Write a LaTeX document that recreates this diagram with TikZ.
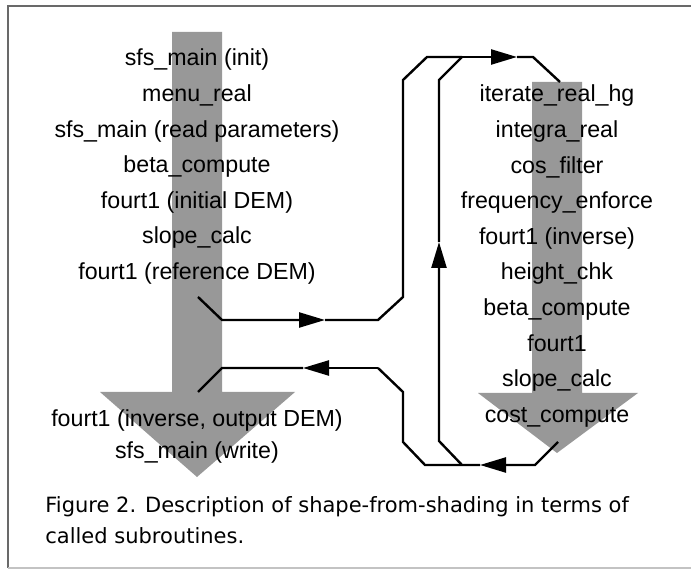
\documentclass[tikz,border=0pt]{standalone}
\usepackage{fontspec}
\setmainfont{Liberation Sans}
\newfontfamily\capfont{DejaVu Sans}
\usetikzlibrary{positioning,arrows.meta}

\definecolor{arrowgray}{RGB}{152,152,152}
\definecolor{framegray}{RGB}{105,105,105}

\tikzset{
    call/.style={font=\fontsize{11.6}{14}\selectfont, text height=8.3pt, text depth=2.4pt, inner sep=0pt},
    flow/.style={draw, line width=1.2pt, line join=miter},
    tip/.style={-{Triangle[length=13pt,width=7.5pt]}},
    caption/.style={font=\capfont\fontsize{10.5}{14}\selectfont, anchor=base west, inner sep=0pt}
}

\begin{document}
\begin{tikzpicture}[x=0.5pt, y=-0.5pt, node distance=17.8pt, on grid]
        \useasboundingbox (0,0) rectangle (691,571);
        % frame
        \draw [framegray, line width=1.1pt] (691,6) -- (8,6) -- (8,568);
        \draw [framegray!40, line width=0.8pt] (8,568) -- (691,568);
        % big gray arrows
        \fill [arrowgray] (172,32) -- (222,32) -- (222,392) -- (295,392) -- (197,477)
            -- (100,392) -- (172,392) -- cycle;
        \fill [arrowgray] (532,82) -- (582,82) -- (582,393) -- (638,393) -- (557,453)
            -- (478,393) -- (532,393) -- cycle;
        % main program calls
        \node [call] (m1) at (197,60) {sfs\_main (init)};
        \node [call, below=of m1] (m2) {menu\_real};
        \node [call, below=of m2] (m3) {sfs\_main (read parameters)};
        \node [call, below=of m3] (m4) {beta\_compute};
        \node [call, below=of m4] (m5) {fourt1 (initial DEM)};
        \node [call, below=of m5] (m6) {slope\_calc};
        \node [call, below=of m6] (m7) {fourt1 (reference DEM)};
        \node [call] (w1) at (197,421) {fourt1 (inverse, output DEM)};
        \node [call, below=15.7pt of w1] (w2) {sfs\_main (write)};
        % iteration calls
        \node [call] (i1) at (557,96) {iterate\_real\_hg};
        \node [call, below=of i1] (i2) {integra\_real};
        \node [call, below=of i2] (i3) {cos\_filter};
        \node [call, below=of i3] (i4) {frequency\_enforce};
        \node [call, below=of i4] (i5) {fourt1 (inverse)};
        \node [call, below=of i5] (i6) {height\_chk};
        \node [call, below=of i6] (i7) {beta\_compute};
        \node [call, below=of i7] (i8) {fourt1};
        \node [call, below=of i8] (i9) {slope\_calc};
        \node [call, below=of i9] (i10) {cost\_compute};
        % bends of the connectors
        \coordinate (go0) at (198,297);
        \coordinate (go1) at (222,320);
        \coordinate (go2) at (325,320);
        \coordinate (go3) at (378,320);
        \coordinate (go4) at (403,297);
        \coordinate (go5) at (403,80);
        \coordinate (go6) at (427,57);
        \coordinate (go7) at (517,57);
        \coordinate (go8) at (533,57);
        \coordinate (go9) at (560,82);
        \coordinate (bk0) at (558,442);
        \coordinate (bk1) at (535,465);
        \coordinate (bk2) at (480,465);
        \coordinate (bk3) at (425,465);
        \coordinate (bk4) at (403,442);
        \coordinate (bk5) at (403,392);
        \coordinate (bk6) at (378,368);
        \coordinate (bk7) at (303,368);
        \coordinate (bk8) at (222,368);
        \coordinate (bk9) at (198,392);
        \coordinate (lp0) at (462,465);
        \coordinate (lp1) at (439,441);
        \coordinate (lp2) at (439,242);
        \coordinate (lp3) at (439,80);
        \coordinate (lp4) at (462,57);
        % into the loop
        \draw [flow, tip] (go0) -- (go1) -- (go2);
        \draw [flow] (go2) -- (go3) -- (go4) -- (go5) -- (go6) -- (lp4);
        \draw [flow, tip] (lp4) -- (go7);
        \draw [flow] (go7) -- (go8) -- (go9);
        % back out of the loop
        \draw [flow, tip] (bk0) -- (bk1) -- (bk2);
        \draw [flow] (bk2) -- (lp0) -- (bk3) -- (bk4) -- (bk5) -- (bk6);
        \draw [flow, tip] (bk6) -- (bk7);
        \draw [flow] (bk7) -- (bk8) -- (bk9);
        % repeat
        \draw [flow, tip] (lp0) -- (lp1) -- (lp2);
        \draw [flow] (lp2) -- (lp3) -- (lp4);
        % caption
        \node [caption] (cap1) at (45,513) {Figure 2. Description of shape-from-shading in terms of};
        \node [caption] (cap2) at (45,544) {called subroutines.};
\end{tikzpicture}
\end{document}
